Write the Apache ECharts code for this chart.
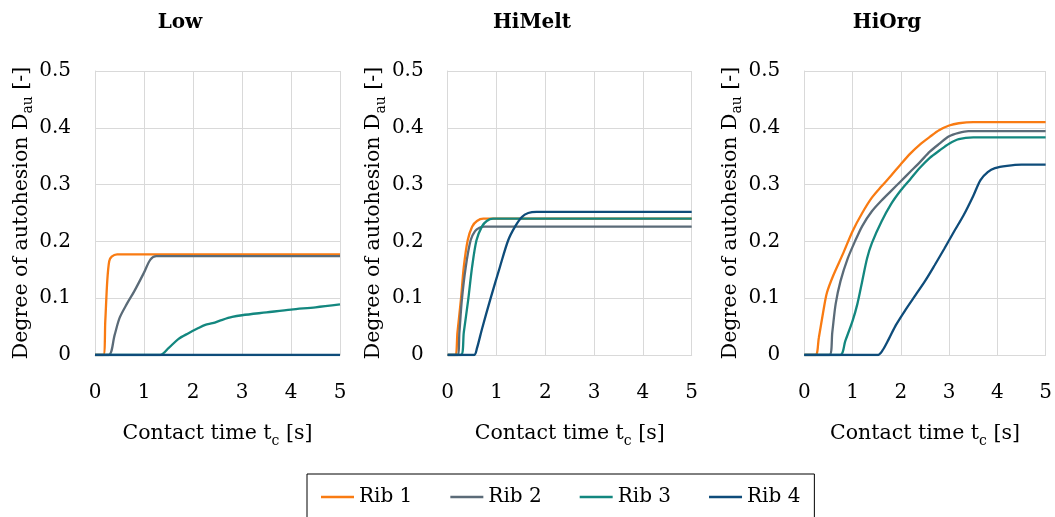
<!DOCTYPE html>
<html><head><meta charset="utf-8">
<script src="https://cdn.jsdelivr.net/npm/echarts@6/dist/echarts.min.js"></script>
<style>html,body{margin:0;padding:0;background:#fff}#c{width:1055px;height:517px}</style>
</head><body><div id="c"></div>
<script>
const panelTitles = ['Low', 'HiMelt', 'HiOrg'];
const ribNames = ['Rib 1', 'Rib 2', 'Rib 3', 'Rib 4'];
const ribColors = ['#F97B12', '#5B6B78', '#13877F', '#0E4C7A'];
const xTickValues = [0, 1, 2, 3, 4, 5];
const yTickValues = [0, 0.1, 0.2, 0.3, 0.4, 0.5];

// Low
const low_rib1 = [[0,0],[0.17,0],[0.21,0.06],[0.25,0.13],[0.29,0.165],[0.34,0.173],[0.45,0.177],[5,0.177]];
const low_rib2 = [[0,0],[0.28,0],[0.4,0.035],[0.5,0.065],[0.65,0.09],[0.8,0.112],[1.0,0.145],[1.13,0.168],[1.25,0.174],[5,0.174]];
const low_rib3 = [[0,0],[1.33,0],[1.5,0.012],[1.7,0.028],[1.9,0.038],[2.1,0.047],[2.25,0.053],[2.4,0.056],[2.6,0.062],[2.8,0.067],[3.0,0.070],[3.5,0.075],[4.0,0.080],[4.5,0.084],[5,0.089]];
const low_rib4 = [[0,0],[5,0]];

// HiMelt
const himelt_rib1 = [[0,0],[0.15,0],[0.2,0.04],[0.27,0.097],[0.33,0.155],[0.41,0.202],[0.5,0.226],[0.6,0.236],[0.73,0.240],[5,0.240]];
const himelt_rib2 = [[0,0],[0.2,0],[0.24,0.04],[0.29,0.097],[0.37,0.155],[0.47,0.202],[0.56,0.218],[0.65,0.224],[0.75,0.226],[5,0.226]];
const himelt_rib3 = [[0,0],[0.27,0],[0.33,0.04],[0.42,0.097],[0.5,0.155],[0.59,0.202],[0.7,0.226],[0.8,0.236],[0.93,0.240],[5,0.240]];
const himelt_rib4 = [[0,0],[0.54,0],[0.6,0.012],[0.7,0.045],[0.87,0.097],[1.07,0.155],[1.24,0.202],[1.38,0.226],[1.52,0.243],[1.65,0.25],[1.82,0.252],[5,0.252]];

// HiOrg
const hiorg_rib1 = [[0,0],[0.23,0],[0.3,0.03],[0.4,0.08],[0.47,0.11],[0.6,0.14],[0.8,0.178],[1.0,0.218],[1.2,0.25],[1.4,0.277],[1.6,0.297],[1.8,0.316],[2.0,0.336],[2.2,0.355],[2.4,0.371],[2.6,0.384],[2.8,0.396],[3.0,0.404],[3.2,0.408],[3.5,0.410],[5,0.410]];
const hiorg_rib2 = [[0,0],[0.52,0],[0.58,0.04],[0.65,0.09],[0.75,0.13],[0.9,0.17],[1.05,0.2],[1.2,0.227],[1.4,0.253],[1.6,0.272],[1.8,0.289],[2.0,0.306],[2.2,0.323],[2.4,0.34],[2.6,0.358],[2.8,0.372],[3.0,0.385],[3.2,0.391],[3.4,0.394],[5,0.394]];
const hiorg_rib3 = [[0,0],[0.74,0],[0.85,0.025],[1.0,0.06],[1.1,0.09],[1.2,0.13],[1.3,0.17],[1.4,0.197],[1.6,0.235],[1.8,0.266],[2.0,0.29],[2.2,0.31],[2.4,0.33],[2.6,0.347],[2.8,0.36],[3.0,0.372],[3.2,0.38],[3.5,0.383],[5,0.383]];
const hiorg_rib4 = [[0,0],[1.52,0],[1.62,0.008],[1.75,0.028],[1.9,0.053],[2.1,0.08],[2.3,0.105],[2.5,0.13],[2.7,0.158],[2.9,0.187],[3.1,0.217],[3.3,0.246],[3.5,0.28],[3.65,0.308],[3.8,0.322],[3.95,0.329],[4.2,0.333],[4.5,0.335],[5,0.335]];

const panelData = [
  [low_rib1, low_rib2, low_rib3, low_rib4],
  [himelt_rib1, himelt_rib2, himelt_rib3, himelt_rib4],
  [hiorg_rib1, hiorg_rib2, hiorg_rib3, hiorg_rib4]
];

const FONT = 'DejaVu Serif';
const gridBoxes = [
  {left: 95, top: 71, width: 245, height: 284},
  {left: 447.7, top: 71, width: 244, height: 284},
  {left: 804.3, top: 71, width: 242.4, height: 284}
];
const titleX = [180, 532, 887];

const richStyles = {
  a: {fontFamily: FONT, fontSize: 20.5, color: '#000', lineHeight: 26},
  s: {fontFamily: FONT, fontSize: 14, color: '#000', lineHeight: 12, padding: [14, 0, 0, 0]}
};

const grids = [], xAxes = [], yAxes = [], series = [], graphics = [];
panelTitles.forEach((t, p) => {
  grids.push(Object.assign({containLabel: false}, gridBoxes[p]));
  xAxes.push({
    type: 'value', gridIndex: p, min: xTickValues[0], max: xTickValues[xTickValues.length - 1], interval: 1,
    axisLine: {show: true, lineStyle: {color: '#D9D9D9', width: 1}},
    axisTick: {show: false},
    splitLine: {show: true, lineStyle: {color: '#D9D9D9', width: 1}},
    axisLabel: {fontFamily: FONT, fontSize: 20, color: '#000', margin: 28},
    name: '{a|Contact time t}{s|c}{a| [s]}',
    nameLocation: 'middle', nameGap: 66,
    nameTextStyle: {rich: richStyles}
  });
  yAxes.push({
    type: 'value', gridIndex: p, min: yTickValues[0], max: yTickValues[yTickValues.length - 1], interval: 0.1,
    axisLine: {show: true, lineStyle: {color: '#D9D9D9', width: 1}},
    axisTick: {show: false},
    splitLine: {show: true, lineStyle: {color: '#D9D9D9', width: 1}},
    axisLabel: {fontFamily: FONT, fontSize: 20, color: '#000', margin: 24},
    name: '{a|Degree of autohesion D}{s|au}{a| [-]}',
    nameLocation: 'middle', nameGap: 56,
    nameTextStyle: {rich: richStyles}
  });
  graphics.push({
    type: 'text', x: titleX[p], y: 23,
    style: {text: t, fill: '#000', font: 'bold 20px "' + FONT + '"', textAlign: 'center', textVerticalAlign: 'middle'}
  });
  ribNames.forEach((n, i) => {
    series.push({
      name: n, type: 'line', xAxisIndex: p, yAxisIndex: p,
      data: panelData[p][i],
      symbol: 'none', smooth: 0.3,
      lineStyle: {color: ribColors[i], width: 2.3},
      itemStyle: {color: ribColors[i]},
      animation: false
    });
  });
});

const chart = echarts.init(document.getElementById('c'), null, {renderer: 'canvas'});
chart.setOption({
  backgroundColor: '#fff',
  animation: false,
  grid: grids, xAxis: xAxes, yAxis: yAxes, series: series,
  graphic: graphics,
  legend: {
    data: ribNames, left: 307, top: 474, orient: 'horizontal',
    icon: 'rect', itemWidth: 33, itemHeight: 2.5, itemGap: 38,
    borderColor: '#000', borderWidth: 1, padding: [13, 14, 14, 14],
    textStyle: {fontFamily: FONT, fontSize: 20, color: '#000', padding: [0, 0, 0, 0]},
    selectedMode: false
  }
});
</script></body></html>
